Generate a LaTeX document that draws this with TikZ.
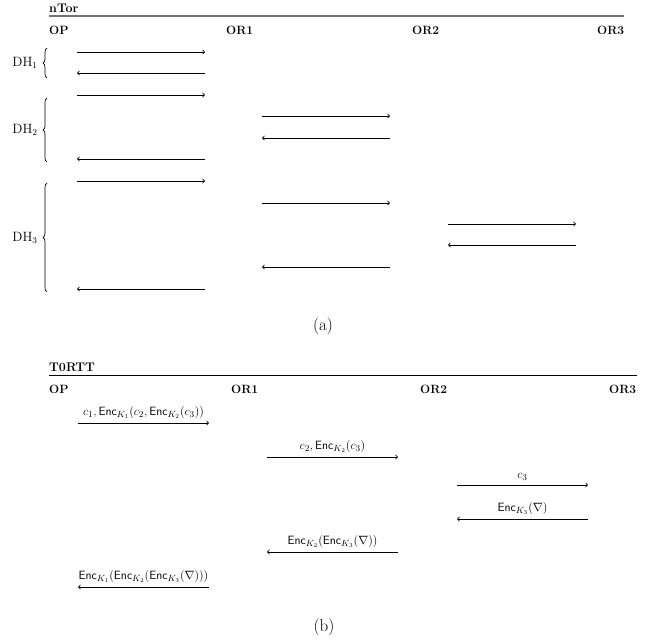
\documentclass[tikz,border=0pt]{standalone}
\usetikzlibrary{decorations.pathreplacing}
\newcommand{\Enc}{\mathsf{Enc}}
\begin{document}
\begin{tikzpicture}[x=1pt,y=-1pt,
  hdr/.style={font=\fontsize{12.5}{14}\selectfont\bfseries, inner sep=0pt, anchor=base west},
  party/.style={font=\fontsize{12}{14}\selectfont\bfseries, inner sep=0pt, anchor=base west},
  msg/.style={line width=0.8pt, ->},
  dh/.style={font=\fontsize{13.5}{15}\selectfont, inner sep=0pt},
  lbl/.style={font=\fontsize{13}{15}\selectfont, inner sep=0pt, anchor=base},
  brc/.style={decorate, decoration={brace, mirror, amplitude=4pt}, line width=0.7pt},
  subcap/.style={font=\fontsize{17}{19}\selectfont, inner sep=0pt}]
\useasboundingbox (0,0) rectangle (656,640);
% ---------- (a) nTor ----------
\node[hdr] (ntor) at (49,12) {nTor};
\draw[line width=1.4pt, gray!90!black] (49,16) -- (624,16);
\node[party] (opa) at (49,34) {OP};
\node[party] (or1a) at (226,34) {OR1};
\node[party] (or2a) at (412,34) {OR2};
\node[party] (or3a) at (597,34) {OR3};
\foreach \n/\y in {1/52,2/73,3/95,4/159,5/181,6/289} {
  \coordinate (aL\n) at (77,\y); \coordinate (aR\n) at (205,\y);}
\foreach \n/\y in {1/116,2/138,3/203,4/267} {
  \coordinate (bL\n) at (262,\y); \coordinate (bR\n) at (390,\y);}
\foreach \n/\y in {1/224,2/245} {
  \coordinate (cL\n) at (448,\y); \coordinate (cR\n) at (576,\y);}
\draw[msg] (aL1) -- (aR1);
\draw[msg] (aR2) -- (aL2);
\draw[msg] (aL3) -- (aR3);
\draw[msg] (bL1) -- (bR1);
\draw[msg] (bR2) -- (bL2);
\draw[msg] (aR4) -- (aL4);
\draw[msg] (aL5) -- (aR5);
\draw[msg] (bL3) -- (bR3);
\draw[msg] (cL1) -- (cR1);
\draw[msg] (cR2) -- (cL2);
\draw[msg] (bR4) -- (bL4);
\draw[msg] (aR6) -- (aL6);
\coordinate (b1t) at (47,48); \coordinate (b1b) at (47,78);
\coordinate (b2t) at (47,98); \coordinate (b2b) at (47,162);
\coordinate (b3t) at (47,183); \coordinate (b3b) at (47,292);
\draw[brc] (b1t) -- (b1b);
\draw[brc] (b2t) -- (b2b);
\draw[brc] (b3t) -- (b3b);
\node[dh] (dh1) at (25,63) {DH$_1$};
\node[dh] (dh2) at (25,130) {DH$_2$};
\node[dh] (dh3) at (25,238) {DH$_3$};
\node[subcap] (capa) at (323,326) {(a)};
% ---------- (b) T0RTT ----------
\node[hdr] (t0) at (49,371) {T0RTT};
\draw[line width=1pt] (49,375) -- (637,375);
\node[party] (opb) at (49,393) {OP};
\node[party] (or1b) at (231,393) {OR1};
\node[party] (or2b) at (420,393) {OR2};
\node[party] (or3b) at (609,393) {OR3};
\coordinate (m1a) at (78,423); \coordinate (m1b) at (209,423);
\coordinate (m2a) at (267,457); \coordinate (m2b) at (398,457);
\coordinate (m3a) at (457,485); \coordinate (m3b) at (588,485);
\coordinate (m4a) at (588,519); \coordinate (m4b) at (457,519);
\coordinate (m5a) at (398,552); \coordinate (m5b) at (267,552);
\coordinate (m6a) at (209,587); \coordinate (m6b) at (78,587);
\draw[msg] (m1a) -- node[lbl, above=4pt] {$c_1, \Enc_{K_1}(c_2, \Enc_{K_2}(c_3))$} (m1b);
\draw[msg] (m2a) -- node[lbl, above=4pt] {$c_2, \Enc_{K_2}(c_3)$} (m2b);
\draw[msg] (m3a) -- node[lbl, above=4pt] {$c_3$} (m3b);
\draw[msg] (m4a) -- node[lbl, above=4pt] {$\Enc_{K_3}(\nabla)$} (m4b);
\draw[msg] (m5a) -- node[lbl, above=4pt] {$\Enc_{K_2}(\Enc_{K_3}(\nabla))$} (m5b);
\draw[msg] (m6a) -- node[lbl, above=4pt] {$\Enc_{K_1}(\Enc_{K_2}(\Enc_{K_3}(\nabla)))$} (m6b);
\node[subcap] (capb) at (324,627) {(b)};
\end{tikzpicture}
\end{document}
